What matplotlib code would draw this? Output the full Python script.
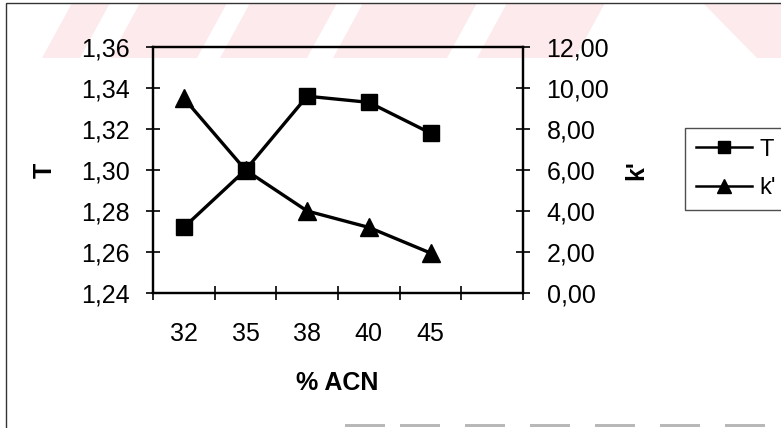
import numpy as np
import matplotlib
matplotlib.use("Agg")
import matplotlib.pyplot as plt
from matplotlib.patches import Polygon, Rectangle
from matplotlib.ticker import FuncFormatter
from matplotlib.lines import Line2D

plt.rcParams["font.family"] = ["Liberation Sans", "DejaVu Sans"]

# Data
acn_labels = ["32", "35", "38", "40", "45"]
t_values = [1.272, 1.300, 1.336, 1.333, 1.318]
k_values = [9.5, 6.0, 4.0, 3.2, 1.95]
t_ticks = [1.24, 1.26, 1.28, 1.30, 1.32, 1.34, 1.36]
k_ticks = [0, 2, 4, 6, 8, 10, 12]

W, H = 781, 428
fig = plt.figure(figsize=(W / 100, H / 100), dpi=100)


def fx(px):
    return px / W


def fy(py):
    return 1 - py / H


# Background layer in pixel coordinates (origin at top-left)
bg = fig.add_axes([0, 0, 1, 1], zorder=-5)
bg.set_xlim(0, W)
bg.set_ylim(H, 0)
bg.axis("off")

# Faint pink diagonal band along the top
pink = "#fdeaec"
band_top, band_bot = 3, 58
slant = 30
stripes = [(42, 80), (110, 197), (220, 307), (333, 447), (477, 575)]
for x0, x1 in stripes:
    pts = [(x0, band_bot), (x1, band_bot), (x1 + slant, band_top), (x0 + slant, band_top)]
    bg.add_patch(Polygon(pts, closed=True, facecolor=pink, edgecolor="none"))
bg.add_patch(Polygon([(757, band_bot), (790, band_bot), (790, band_top), (703, band_top)],
                     closed=True, facecolor=pink, edgecolor="none"))

# Faint gray dashes along the bottom edge
for x0, x1 in [(345, 385), (400, 440), (465, 505), (530, 570),
               (595, 635), (660, 700), (725, 765)]:
    bg.add_patch(Rectangle((x0, 424), x1 - x0, 2.5, facecolor="#b8b8b8", edgecolor="none"))

# Outer chart frame (right and bottom edges fall outside the canvas)
bg.add_patch(Rectangle((6, 3), 900, 500, facecolor="none", edgecolor="#333333",
                       linewidth=1.0, clip_on=False))

ax = fig.add_axes([fx(153), fy(293), fx(523 - 153), (293 - 47) / H])
ax.set_facecolor("none")
ax2 = ax.twinx()

x = np.arange(len(acn_labels))
ax.plot(x, t_values, color="black", lw=2.4, marker="s", ms=12,
        label="T", clip_on=False, zorder=5)
ax2.plot(x, k_values, color="black", lw=2.4, marker="^", ms=13,
         label="k'", clip_on=False, zorder=5)

ax.set_xlim(-0.5, 5.5)
ax.set_ylim(t_ticks[0], t_ticks[-1])
ax2.set_ylim(k_ticks[0], k_ticks[-1])

ax.set_xticks(x, acn_labels)
ax.set_xticks(np.arange(-0.5, 6.0, 1.0), minor=True)
ax.tick_params(axis="x", which="major", length=0, pad=21, labelsize=18)
ax.tick_params(axis="x", which="minor", direction="inout", length=10, width=1.2)

fmt = FuncFormatter(lambda v, p: f"{v:.2f}".replace(".", ","))
ax.set_yticks(t_ticks)
ax.yaxis.set_major_formatter(fmt)
ax.tick_params(axis="y", direction="inout", length=10, width=1.2, pad=12, labelsize=18)

ax2.set_yticks(k_ticks)
ax2.yaxis.set_major_formatter(fmt)
ax2.tick_params(axis="y", direction="inout", length=10, width=1.2, pad=12, labelsize=18)

for a in (ax, ax2):
    for s in a.spines.values():
        s.set_linewidth(1.6)
        s.set_color("black")

# Axis titles
fig.text(fx(45), fy(170), "T", rotation=90, ha="center", va="center",
         fontsize=18, fontweight="bold")
fig.text(fx(636), fy(170), "k'", rotation=90, ha="center", va="center",
         fontsize=18, fontweight="bold")
fig.text(fx(337), fy(383), "% ACN", ha="center", va="center",
         fontsize=18, fontweight="bold")

# Legend
handles = [Line2D([], [], color="black", lw=1.8, marker="s", ms=9),
           Line2D([], [], color="black", lw=1.8, marker="^", ms=10)]
leg = fig.legend(handles, ["T", "k'"], loc="upper left",
                 bbox_to_anchor=(fx(685), fy(128)), fontsize=17,
                 frameon=True, fancybox=False, edgecolor="#222222",
                 handlelength=2.4, handletextpad=0.3, labelspacing=0.7,
                 borderpad=0.45, borderaxespad=0)
leg.get_frame().set_linewidth(1.0)

fig.savefig("out.png", dpi=100)
